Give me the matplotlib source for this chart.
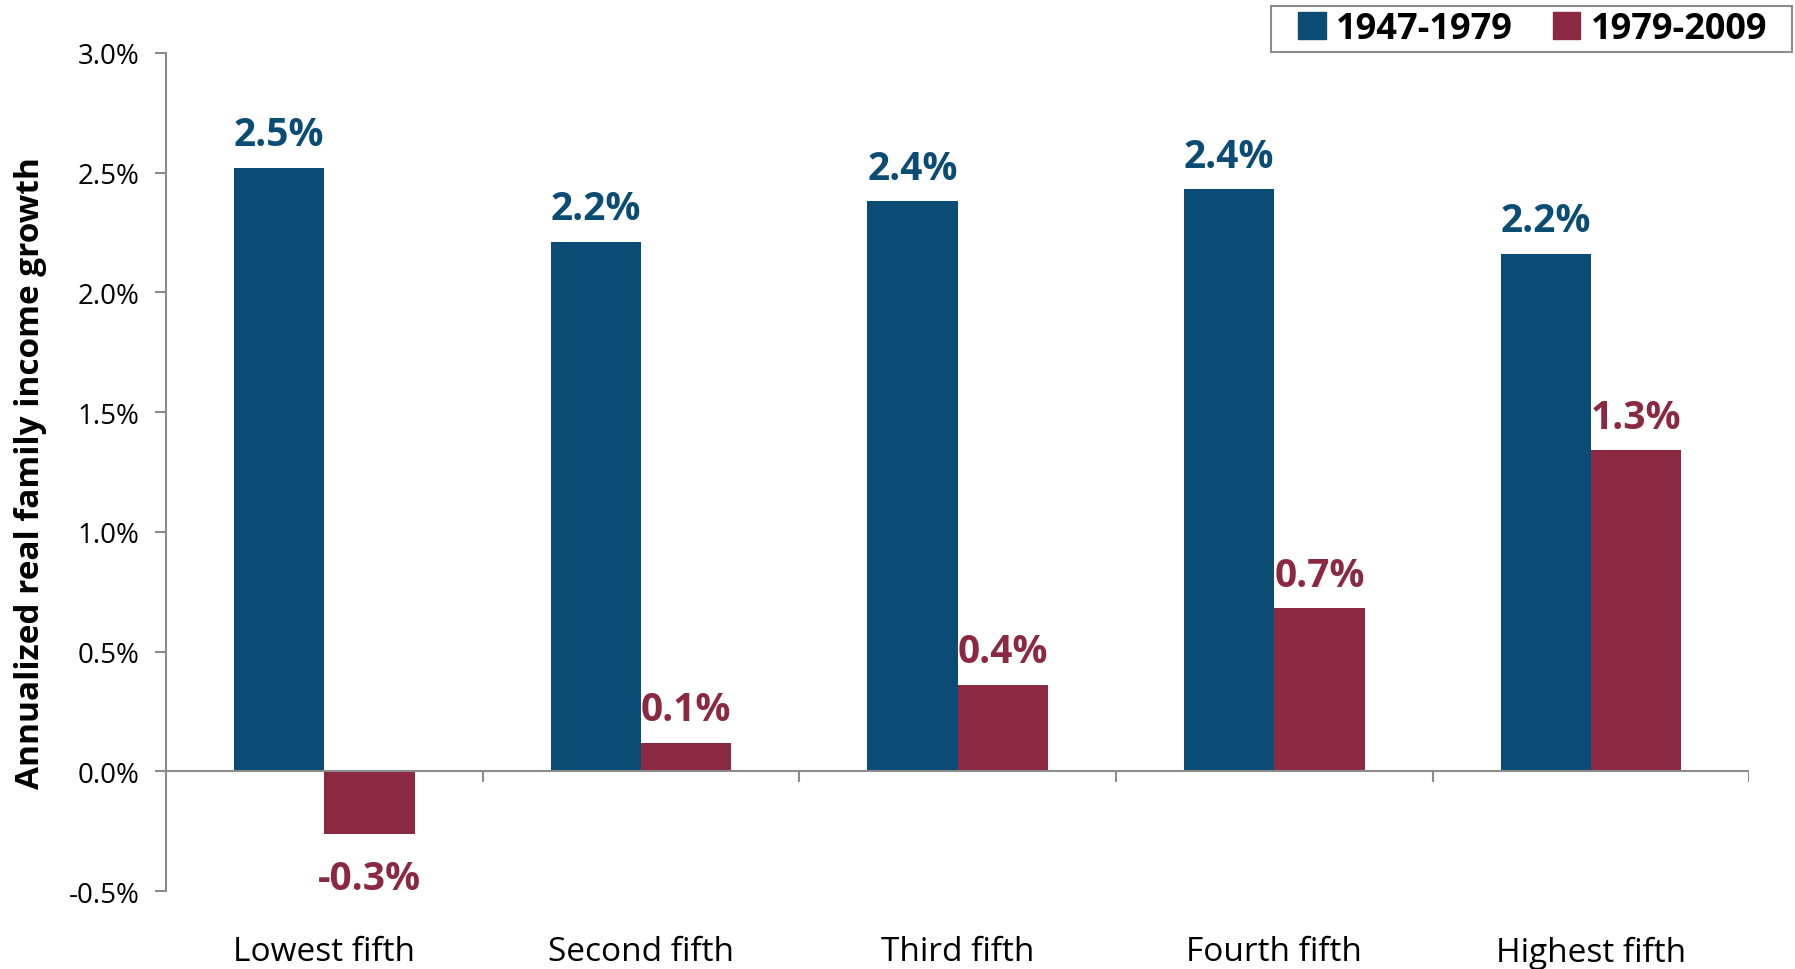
import numpy as np
import matplotlib
matplotlib.use('Agg')
from matplotlib import pyplot as plt
from matplotlib.patches import Patch, Rectangle

plt.rcParams['font.family'] = ['Open Sans', 'DejaVu Sans']

# data
categories = ['Lowest fifth', 'Second fifth', 'Third fifth', 'Fourth fifth', 'Highest fifth']
growth_1947_1979 = [2.52, 2.21, 2.38, 2.43, 2.16]
growth_1979_2009 = [-0.26, 0.12, 0.36, 0.68, 1.34]
series_names = ['1947-1979', '1979-2009']

blue = '#0b4c74'
red = '#8b2942'
gray = '#8c8c8c'

fig = plt.figure(figsize=(17.95, 9.7), dpi=100)
ax = fig.add_axes([0.0925, 0.0804, 0.882, 0.864])

x = np.arange(len(categories))
w = 0.285
b1 = ax.bar(x - w / 2, growth_1947_1979, w, color=blue)
b2 = ax.bar(x + w / 2, growth_1979_2009, w, color=red)

# value labels
for bars, vals, col in [(b1, growth_1947_1979, blue), (b2, growth_1979_2009, red)]:
    for r, v in zip(bars, vals):
        cx = r.get_x() + r.get_width() / 2
        if v >= 0:
            ax.annotate(f'{v:.1f}%', (cx, v), xytext=(0, 10), textcoords='offset points',
                        ha='center', va='bottom', fontsize=28, fontweight='bold', color=col)
        else:
            ax.annotate(f'{v:.1f}%', (cx, v), xytext=(0, -18), textcoords='offset points',
                        ha='center', va='top', fontsize=28, fontweight='bold', color=col)

ax.set_xlim(-0.5, len(categories) - 0.5)
ax.set_ylim(-0.5, 3.0)
ax.set_yticks(np.arange(-0.5, 3.01, 0.5))
ax.set_yticklabels([f'{t:.1f}%' for t in np.arange(-0.5, 3.01, 0.5)])
ax.tick_params(axis='y', labelsize=20, length=8, width=1.5, color=gray, pad=11)

ax.set_xticks(x)
ax.set_xticklabels(categories)
ax.tick_params(axis='x', labelsize=24, length=0, pad=32)

for s in ['top', 'right', 'bottom']:
    ax.spines[s].set_visible(False)
ax.spines['left'].set_color(gray)
ax.spines['left'].set_linewidth(1.5)

# zero line with category boundary ticks
ax.axhline(0, color=gray, lw=1.5, zorder=3)
ax.vlines(np.arange(0.5, len(categories), 1.0), -0.045, 0, color=gray, lw=1.5, zorder=3)

ax.set_ylabel('Annualized real family income growth', fontsize=24, fontweight='bold', labelpad=16)

# legend: wide box drawn separately, entries centred in it
box = Rectangle((1271 / 1795, 1 - 53 / 970), 521 / 1795, 46 / 970, transform=fig.transFigure,
                facecolor='white', edgecolor=gray, lw=1.5)
fig.patches.append(box)
handles = [Patch(color=blue), Patch(color=red)]
fig.legend(handles, series_names, loc='center', bbox_to_anchor=(0.854, 1 - 30 / 970),
           ncol=2, frameon=False, handlelength=0.75, handleheight=0.75,
           handletextpad=0.3, columnspacing=1.1, borderpad=0.1,
           prop={'size': 26, 'weight': 'bold'})

fig.savefig('out.png', dpi=100)
